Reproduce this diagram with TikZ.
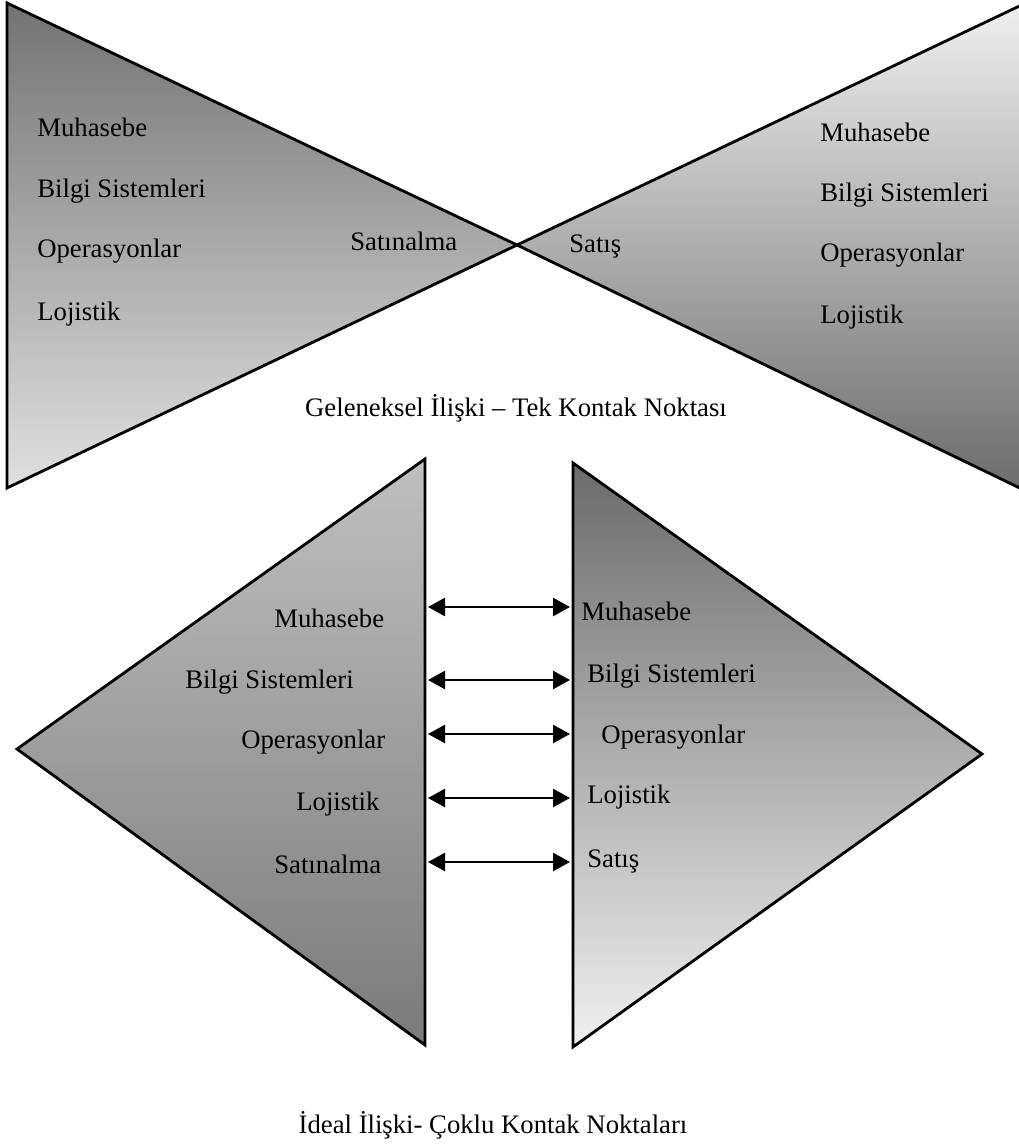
\documentclass[tikz,border=0pt]{standalone}
\usepackage{fontspec}
\setmainfont{Liberation Serif}
\usetikzlibrary{arrows.meta}
\begin{document}
\begin{tikzpicture}[x=0.02cm,y=-0.02cm,
  tri/.style={draw=black,line width=1.6pt,line join=miter},
  lbl/.style={font=\fontsize{15.2}{18}\selectfont,inner sep=0pt,anchor=base west},
  captxt/.style={font=\fontsize{15.2}{18}\selectfont,inner sep=0pt,anchor=base},
  link/.style={line width=1.4pt,{Triangle[length=0.34cm,width=0.36cm]}-{Triangle[length=0.34cm,width=0.36cm]}}]
\useasboundingbox (0,0) rectangle (1018,1145);
% top bow-tie
\shadedraw[tri,top color=black!55,bottom color=black!12] (7,3) -- (517,245) -- (7,488) -- cycle;
\shadedraw[tri,top color=black!6,bottom color=black!58] (1030,1) -- (517,245) -- (1030,493) -- cycle;
% bottom triangles
\shadedraw[tri,top color=black!25,bottom color=black!52] (425,459) -- (425,1045) -- (17,749) -- cycle;
\shadedraw[tri,top color=black!58,bottom color=black!6] (573,463) -- (982,754) -- (573,1047) -- cycle;
% top texts
\node[lbl] (tl1) at (37,137) {Muhasebe};
\node[lbl] (tl2) at (37,198) {Bilgi Sistemleri};
\node[lbl] (tl3) at (37,258) {Operasyonlar};
\node[lbl] (tl4) at (37,320) {Lojistik};
\node[lbl] (tl5) at (350,251) {Satınalma};
\node[lbl] (tr5) at (569,253) {Satış};
\node[lbl] (tr1) at (820,142) {Muhasebe};
\node[lbl] (tr2) at (820,202) {Bilgi Sistemleri};
\node[lbl] (tr3) at (820,262) {Operasyonlar};
\node[lbl] (tr4) at (820,323) {Lojistik};
\node[captxt] (cap1) at (516,416) {Geleneksel İlişki – Tek Kontak Noktası};
% bottom texts
\node[lbl] (bl1) at (274,627) {Muhasebe};
\node[lbl] (bl2) at (185,688) {Bilgi Sistemleri};
\node[lbl] (bl3) at (241,748) {Operasyonlar};
\node[lbl] (bl4) at (296,810) {Lojistik};
\node[lbl] (bl5) at (274,873) {Satınalma};
\node[lbl] (br1) at (581,620) {Muhasebe};
\node[lbl] (br2) at (587,682) {Bilgi Sistemleri};
\node[lbl] (br3) at (601,743) {Operasyonlar};
\node[lbl] (br4) at (587,803) {Lojistik};
\node[lbl] (br5) at (587,867) {Satış};
\node[captxt] (cap2) at (493,1133) {İdeal İlişki- Çoklu Kontak Noktaları};
% arrows
\foreach \i/\y in {1/607,2/680,3/734,4/798,5/862}{
  \coordinate (al\i) at (428,\y);
  \coordinate (ar\i) at (570,\y);
  \draw[link] (al\i) -- (ar\i);
}
\end{tikzpicture}
\end{document}
